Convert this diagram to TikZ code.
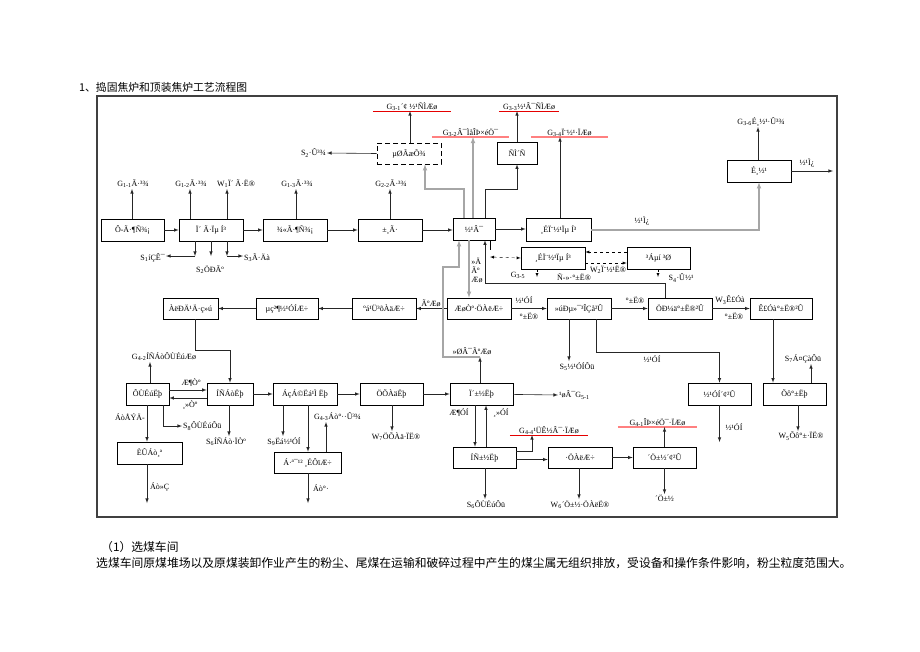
\documentclass[tikz,border=0pt]{standalone}
\usepackage{fontspec}
\setmainfont{Liberation Serif}
\newfontfamily\cjk{Noto Sans CJK SC}
\newcommand{\lblfont}{\fontsize{8}{9}\selectfont}

\begin{document}
\begin{tikzpicture}[x=1pt, y=-1pt, >=latex,
    box/.style={draw, line width=0.7pt, minimum width=64pt, minimum height=22pt, inner sep=1pt, font=\lblfont},
    dbox/.style={box, dash pattern=on 5pt off 3pt},
    lbl/.style={inner sep=1pt, font=\lblfont},
    uline/.style={lbl, anchor=south, inner sep=0.5pt},
    flow/.style={->, line width=0.6pt, black!85},
    gflow/.style={->, line width=1.1pt, gray!70},
    redA/.style={line width=1pt, red!90!black},
    redB/.style={line width=1.3pt, red!50}]

    \useasboundingbox[fill=white] (0,0) rectangle (920,651);

    \node (title) [anchor=west, inner sep=0pt, font=\cjk\fontsize{10.8}{12}\selectfont] at (79,87) {1、捣固焦炉和顶装焦炉工艺流程图};
    \draw[line width=1.2pt, black!75] (97,96) rectangle (837,517);

    % main row
    \node (yuanmei) [box, minimum width=63pt] at (132.5,230) {Ô-Ã·¶Ñ¾¡};
    \node (xuanmei) [box] at (211,230) {Ï´ Ã·Ïµ Í³};
    \node (jingmei) [box] at (295,230) {¾«Ã·¶Ñ¾¡};
    \node (beimei) [box] at (390,230) {±¸Ã·};
    \node (jiaolu) [box, minimum width=42pt] at (474,229) {½¹Â¯};
    \node (gxj1) [box, minimum width=65pt, minimum height=23pt] at (558.5,230) {¸ÉÏ¨½¹Ïµ Í³};
    \node (gxj2) [box] at (553,258) {¸ÉÏ¨½¹Ïµ Í³};
    \node (chendian) [box, minimum width=63pt] at (658.5,258) {³Áµí ³Ø};
    \node (shaijiao) [box] at (759,171) {É¸½¹};
    \node (dimian) [dbox, minimum height=21pt] at (409,153.5) {µØÃæÕ¾};
    \node (yancong) [box, minimum width=40pt] at (517,153) {ÑÌ´Ñ};

    \draw[flow] (yuanmei) -- (xuanmei);
    \draw[flow] (xuanmei) -- (jingmei);
    \draw[flow] (jingmei) -- (beimei);
    \draw[flow] (beimei.east) -- (jiaolu.west |- beimei.east);
    \draw[flow] (jiaolu.east) -- (gxj1.west |- jiaolu.east);

    % emissions above the main row
    \node (g11) [lbl, anchor=south] at (133,189) {G\textsubscript{1-1}Ã·³¾};
    \node (g12) [lbl, anchor=south] at (191,189) {G\textsubscript{1-2}Ã·³¾};
    \node (w1) [lbl, anchor=south] at (236,189) {W\textsubscript{1}Ï´ Ã·Ë®};
    \node (g13) [lbl, anchor=south] at (297,189) {G\textsubscript{1-3}Ã·³¾};
    \node (g22) [lbl, anchor=south] at (391,189) {G\textsubscript{2-2}Ã·³¾};
    \node (s2d) [lbl, anchor=east] at (327,153) {S\textsubscript{2}·Û³¾};
    \draw[flow] (yuanmei.north -| 132,0) -- (g11.south -| 132,0);
    \draw[flow] (xuanmei.north -| 190,0) -- (g12.south -| 190,0);
    \draw[flow] (xuanmei.north -| 227,0) -- (w1.south -| 227,0);
    \draw[flow] (jingmei.north -| 296,0) -- (g13.south -| 296,0);
    \draw[flow] (beimei.north -| 390,0) -- (g22.south -| 390,0);
    \draw[flow] (dimian.west) -- (s2d.east);

    \node (g31) [uline, minimum width=78pt] at (412,111) {G\textsubscript{3-1}´¢ ½¹ÑÌÆø};
    \node (g33) [uline, minimum width=60pt] at (529,111) {G\textsubscript{3-3}½¹Â¯ÑÌÆø};
    \node (g32) [uline, minimum width=77pt] at (470.5,137) {G\textsubscript{3-2}Â¯ÌåÎÞ×éÖ¯};
    \node (g34) [uline, minimum width=77pt] at (569.5,137) {G\textsubscript{3-4}Ï¨½¹·ÏÆø};
    \draw[redA] (g31.south west) -- (g31.south east);
    \draw[redA] (g33.south west) -- (g33.south east);
    \draw[redB] (g32.south west) -- (g32.south east);
    \draw[redB] (g34.south west) -- (g34.south east);

    \draw[gflow] (jiaolu.north -| 464,0) -- (464,189) -- (425,189) -- (dimian.south -| 425,0);
    \draw[gflow] (jiaolu.north -| 473,0) -- (g32.south -| 473,0);
    \draw[flow] (jiaolu.north -| 485,0) -- (485,189) -| (yancong.south);
    \draw[flow] (yancong.north) -- (g33.south -| yancong.north);
    \draw[flow] (dimian.north -| 410,0) -- (g31.south -| 410,0);
    \draw[flow] (gxj1.north -| 560,0) -- (g34.south -| 560,0);

    % coke screening
    \node (g36) [lbl, anchor=south] at (761,127) {G\textsubscript{3-6}É¸½¹·Û³¾};
    \node (jt1) [lbl] at (807,163) {½¹Ì¿};
    \node (jt2) [lbl] at (642,221) {½¹Ì¿};
    \coordinate (jtout) at (833,171);
    \draw[gflow] (gxj1.east) -| (shaijiao.south);
    \draw[flow] (shaijiao.north -| 758,0) -- (g36.south -| 758,0);
    \draw[flow] (shaijiao.east) -- (jtout);

    % coal washing outputs
    \coordinate (c1) at (195,256);
    \coordinate (c2) at (211,256);
    \coordinate (c3) at (227,256);
    \node (s1) [lbl, anchor=east] at (166,258) {S\textsubscript{1}íÇÊ¯};
    \node (s3) [lbl, anchor=west] at (243,258) {S\textsubscript{3}Ã·Äà};
    \node (s2m) [lbl] at (210,270) {S\textsubscript{2}ÖÐÃº};
    \draw[flow] (xuanmei.south -| c1) -- (c1);
    \draw[flow] (xuanmei.south -| c2) -- (c2);
    \draw[flow] (xuanmei.south -| c3) -- (c3);
    \draw[flow] (c1) -- (s1.east |- c1);
    \draw[flow] (c3) -- (s3.west |- c3);

    % coke oven, quenching
    \node (huang) [lbl, align=left] at (477,270) {»Ä\\Ãº\\Æø};
    \node (huilu) [lbl] at (472,351) {»ØÂ¯ÃºÆø};
    \node (xunhuan) [lbl] at (574,277) {Ñ-»·°±Ë®};
    \node (w2) [lbl] at (608,270) {W\textsubscript{2}Ï¨½¹Ë®};
    \node (g35) [lbl] at (518,275) {G\textsubscript{3-5}};
    \node (s4) [lbl] at (681,278) {S\textsubscript{4}·Û½¹};
    \coordinate (g35t) at (537,277);
    \coordinate (s4t) at (658,277);
    \draw[dashed, <->] (490,257) -- (gxj2.west);
    \draw (jiaolu.south -| 490,0) -- (490,250);
    \draw[dashed, ->] ([yshift=6pt]chendian.west) -- ([yshift=6pt]gxj2.east);
    \draw[dashed, ->] ([yshift=-5pt]gxj2.east) -- ([yshift=-5pt]chendian.west);
    \draw[dashed, ->] (gxj2.south -| g35t) -- (g35t);
    \draw[dashed, ->] (chendian.south -| s4t) -- (s4t);

    % row 3
    \node (lengning) [box, minimum width=55pt, minimum height=21pt] at (190.5,308.5) {ÀëÐÄ¹Ä·ç»ú};
    \node (dianbu) [box, minimum width=62pt, minimum height=21pt] at (287,308.5) {µç²¶½¹ÓÍÆ÷};
    \node (hengguan) [box, minimum height=21pt] at (384,308.5) {ºá¹Ü³õÀäÆ÷};
    \node (qiye) [box, minimum height=21pt] at (479,308.5) {ÆøÒº·ÖÀëÆ÷};
    \node (chengqing) [box, minimum height=21pt] at (579,308.5) {»úÐµ»¯³ÎÇå²Û};
    \node (zhongjian) [box, minimum height=21pt] at (680,308.5) {ÖÐ¼ä°±Ë®²Û};
    \node (shengyu) [box, minimum width=62pt, minimum height=21pt] at (781,308.5) {Ê£Óà°±Ë®²Û};

    \draw[gflow] (jiaolu.south -| 469,0) -- (qiye.north -| 469,0);
    \draw[flow] (zhongjian.north -| 665,0) -- (665,283) -- (485,283) -- (jiaolu.south -| 485,0);

    \node (mq) [lbl] at (431,303) {ÃºÆø};
    \node (jy1) [lbl] at (524,300) {½¹ÓÍ};
    \node (as1) [lbl] at (529,316) {°±Ë®};
    \node (as2) [lbl] at (635,300) {°±Ë®};
    \node (w3) [lbl] at (730,300) {W\textsubscript{3}Ê£Óà};
    \node (as3) [lbl] at (734,316) {°±Ë®};
    \draw[flow] (qiye) -- (hengguan);
    \draw[flow] (hengguan) -- (dianbu);
    \draw[flow] (dianbu) -- (lengning);
    \draw[flow] (qiye) -- (chengqing);
    \draw[flow] (chengqing) -- (zhongjian);
    \draw[flow] (zhongjian) -- (shengyu);

    % row 4
    \node (zaisheng) [box, minimum width=43pt] at (147.5,394) {ÔÙÉúËþ};
    \node (tuoliu) [box, minimum width=46pt] at (230,394) {ÍÑÁòËþ};
    \node (liuan) [box] at (305,394) {ÁçÁ©Ëá¹Ì Ëþ};
    \node (zhongleng) [box, minimum width=63pt] at (391.5,394) {ÖÕÀäËþ};
    \node (xiben) [box, minimum width=63pt] at (481.5,394) {Ï´±½Ëþ};
    \node (jiaoyou) [box, minimum width=63pt] at (719.5,394) {½¹ÓÍ´¢²Û};
    \node (zhengan) [box, minimum width=63pt] at (794.5,394) {Õô°±Ëþ};

    \draw[flow] (lengning.south -| 195,0) -- (195,350) -| (tuoliu.north);
    \draw[flow] (xiben.north -| 480,0) -- (480,357);
    \draw[gflow] (480,357) -- (443,357) -- (443,267) -- (459,267) -- (jiaolu.south -| 459,0);

    \node (s5) [lbl, anchor=north] at (577,361) {S\textsubscript{5}½¹ÓÍÔü};
    \node (jy2) [lbl] at (652,359) {½¹ÓÍ};
    \node (s7) [lbl, anchor=south] at (803,364) {S\textsubscript{7}Á¤ÇàÔü};
    \draw[flow] (chengqing.south -| 569,0) -- (s5.north -| 569,0);
    \draw[flow] (chengqing.south -| 596,0) -- (596,352) -| (jiaoyou.north);
    \draw[flow] (shengyu.south -| 773,0) -- (zhengan.north -| 773,0);
    \draw[flow] (zhengan.north -| 811,0) -- (s7.south -| 811,0);

    \node (g42) [lbl, anchor=south] at (164,362) {G\textsubscript{4-2}ÍÑÁòÔÙÉúÆø};
    \node (py1) [lbl] at (191,383) {Æ¶Òº};
    \node (fy1) [lbl] at (190,405) {¸»Òº};
    \node (g51) [lbl, anchor=west] at (558,395) {¹øÂ¯G\textsubscript{5-1}};
    \draw[flow] (zaisheng.north -| 150,0) -- (g42.south -| 150,0);
    \draw[flow] ([yshift=4pt]zaisheng.east) -- ([yshift=4pt]tuoliu.west);
    \draw[flow] ([yshift=-4pt]tuoliu.west) -- ([yshift=-4pt]zaisheng.east);
    \draw[flow] (tuoliu) -- (liuan);
    \draw[flow] (liuan) -- (zhongleng);
    \draw[flow] (zhongleng) -- (xiben);
    \draw[flow] (xiben) -- (g51.west);

    % row 5
    \node (rongliu) [box, minimum width=65pt] at (149.5,453) {ÈÛÁò¸ª};
    \node (liuganzao) [box, minimum width=67pt, minimum height=21pt] at (307.5,462.5) {Á·ª¯¹² ¸ÉÔïÆ÷};
    \node (tuoben) [box, minimum width=63pt, minimum height=21pt] at (484.5,457.5) {ÍÑ±½Ëþ};
    \node (fenli) [box, minimum height=21pt] at (580,457.5) {·ÖÀëÆ÷};
    \node (cuben) [box, minimum width=63pt, minimum height=21pt] at (664.5,457.5) {´Ö±½´¢²Û};

    \node (lpm) [lbl, anchor=east] at (146,417) {ÁòÅÝÄ-};
    \node (s8) [lbl, anchor=west] at (182,426) {S\textsubscript{8}ÔÙÉúÔü};
    \node (lh) [lbl, anchor=west] at (149,487) {Áò»Ç};
    \node (s6a) [lbl, anchor=north] at (226,436) {S\textsubscript{6}ÍÑÁò·ÏÒº};
    \node (s9) [lbl, anchor=north] at (284,436) {S\textsubscript{9}Ëá½¹ÓÍ};
    \node (g43) [lbl, anchor=south west] at (313,422) {G\textsubscript{4-3}Áò°··Û³¾};
    \node (la) [lbl, anchor=west] at (312,488) {Áò°·};
    \node (w7) [lbl, anchor=north] at (396,431) {W\textsubscript{7}ÖÕÀä·ÏË®};
    \coordinate (lhout) at (147,503);
    \coordinate (laout) at (308,503);
    \draw[flow] (zaisheng.south -| 147,0) -- (rongliu.north -| 147,0);
    \draw[flow] (zaisheng.south -| 163,0) -- (163,426) -- (s8.west);
    \draw[flow] (rongliu.south -| lhout) -- (lhout);
    \draw[flow] (tuoliu.south -| 229,0) -- (s6a.north -| 229,0);
    \draw[flow] (liuan.south -| 283,0) -- (s9.north -| 283,0);
    \draw[flow] (liuan.south -| 308,0) -- (liuganzao.north -| 308,0);
    \draw[flow] (liuganzao.north -| 326,0) -- (g43.south -| 326,0);
    \draw[flow] (liuganzao.south -| laout) -- (laout);
    \draw[flow] (zhongleng.south -| 392,0) -- (w7.north -| 392,0);

    \node (py2) [lbl] at (459,413) {Æ¶ÓÍ};
    \node (fy2) [lbl] at (501,413) {¸»ÓÍ};
    \node (g44) [uline, minimum width=78pt] at (549,435) {G\textsubscript{4-4}¹ÜÊ½Â¯·ÏÆø};
    \node (g41) [uline, minimum width=79pt] at (657.5,427) {G\textsubscript{4-1}ÎÞ×éÖ¯·ÏÆø};
    \draw[redA] (g44.south west) -- (g44.south east);
    \draw[redB] (g41.south west) -- (g41.south east);
    \node (cb) [lbl, anchor=north] at (664.5,494) {´Ö±½};
    \node (w6) [lbl, anchor=north] at (580,499) {W\textsubscript{6}´Ö±½·ÖÀëË®};
    \node (s6b) [lbl, anchor=north] at (486,499) {S\textsubscript{6}ÔÙÉúÔü};
    \node (jy3) [lbl] at (734,427) {½¹ÓÍ};
    \node (w5) [lbl, anchor=north] at (801,431) {W\textsubscript{5}Õô°±·ÏË®};
    \coordinate (jyout) at (719.5,442);
    \draw[flow] (xiben.south -| 475,0) -- (tuoben.north -| 475,0);
    \draw[flow] (tuoben.north -| 486,0) -- (xiben.south -| 486,0);
    \draw[flow] ([yshift=6pt]tuoben.east) -| (g44.south -| 532,0);
    \draw[flow] ([yshift=-2pt]tuoben.east) -- ([yshift=-2pt]fenli.west);
    \draw[flow] (fenli) -- (cuben);
    \draw[flow] (cuben.north) -- (g41.south -| cuben.north);
    \draw[flow] (cuben.south) -- (cb.north);
    \draw[flow] (fenli.south -| 579,0) -- (w6.north -| 579,0);
    \draw[flow] (tuoben.south -| 485,0) -- (s6b.north -| 485,0);
    \draw[flow] (jiaoyou.south) -- (jyout);
    \draw[flow] (zhengan.south -| 798,0) -- (w5.north -| 798,0);

    % text below the chart
    \node (h1) [anchor=west, inner sep=0pt, font=\cjk\fontsize{11.8}{14}\selectfont] at (101,547) {（1）选煤车间};
    \node (p1) [anchor=west, inner sep=0pt, font=\cjk\fontsize{11.8}{14}\selectfont] at (96,563) {选煤车间原煤堆场以及原煤装卸作业产生的粉尘、尾煤在运输和破碎过程中产生的煤尘属无组织排放，受设备和操作条件影响，粉尘粒度范围大。};

\end{tikzpicture}
\end{document}
